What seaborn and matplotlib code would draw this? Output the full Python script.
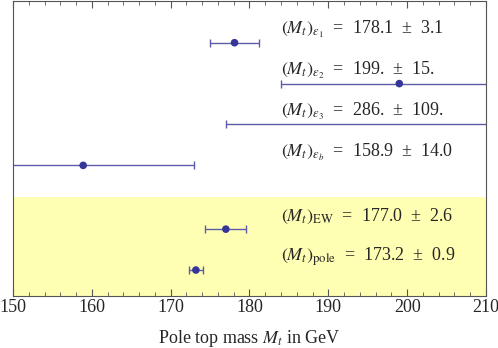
import numpy as np
import pandas as pd
import matplotlib.pyplot as plt
import seaborn as sns
from matplotlib.ticker import MultipleLocator

sns.set_style("ticks")
plt.rcParams['font.family'] = ['Liberation Serif', 'DejaVu Serif']
plt.rcParams['mathtext.fontset'] = 'stix'

# 데이터
names = [r'$(M_t)_{\epsilon_1}$', r'$(M_t)_{\epsilon_2}$', r'$(M_t)_{\epsilon_3}$',
         r'$(M_t)_{\epsilon_b}$', r'$(M_t)_{\mathrm{EW}}$', r'$(M_t)_{\mathrm{pole}}$']
values = [178.1, 199.0, 286.0, 158.9, 177.0, 173.2]
errors = [3.1, 15.0, 109.0, 14.0, 2.6, 0.9]
value_text = ['178.1', '199.', '286.', '158.9', '177.0', '173.2']
error_text = ['3.1', '15.', '109.', '14.0', '2.6', '0.9']
group = ['single', 'single', 'single', 'single', 'combined', 'combined']

df = pd.DataFrame({'name': names, 'value': values, 'error': errors,
                   'vtxt': value_text, 'etxt': error_text, 'group': group})
# 행 위치 (combined 그룹은 조금 띄움)
df['row'] = np.arange(len(df)) + np.where(df['group'] == 'combined', 0.56, 0.0)

fig = plt.figure(figsize=(4.98, 3.48), dpi=100)
ax = fig.add_axes([13 / 498, 1 - 296 / 348, 473 / 498, 295 / 348])

ymin, ymax = -1.02, 6.195
split = (df.loc[df['group'] == 'single', 'row'].max() +
         df.loc[df['group'] == 'combined', 'row'].min()) / 2
ax.axhspan(split, ymax, color='#ffffb3', zorder=0, lw=0)

ax.errorbar(df['value'], df['row'], xerr=df['error'], fmt='none',
            ecolor='#5c5cab', elinewidth=1.0, capsize=3, capthick=1.0, zorder=2)
sns.scatterplot(data=df, x='value', y='row', color='#35359a', s=30,
                edgecolor='none', zorder=3, ax=ax)

for _, r in df.iterrows():
    ax.text(184.0, r['row'] - 0.32,
            f"{r['name']}  =  {r['vtxt']}  ±  {r['etxt']}",
            fontsize=13, va='center', ha='left')

ax.set_xlim(150, 210)
ax.set_ylim(ymax, ymin)
ax.set_yticks([])
ax.xaxis.set_major_locator(MultipleLocator(10))
ax.xaxis.set_minor_locator(MultipleLocator(2))
ax.tick_params(axis='x', which='both', direction='in', top=True, bottom=True,
               color='#555555', labelsize=13, pad=2)
ax.tick_params(axis='x', which='major', length=5, width=0.8)
ax.tick_params(axis='x', which='minor', length=3, width=0.6)
for s in ax.spines.values():
    s.set_visible(True)
    s.set_color('#555555')
    s.set_linewidth(0.8)

ax.set_xlabel(r'Pole top mass $M_t$ in GeV', fontsize=13, labelpad=9)
ax.set_ylabel('')

fig.savefig('out.png', dpi=100)
